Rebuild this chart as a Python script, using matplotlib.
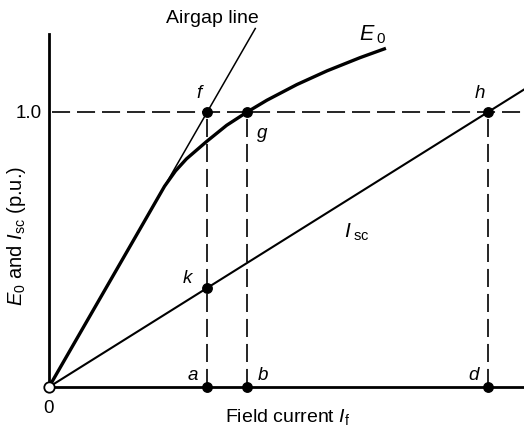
import matplotlib
matplotlib.use("Agg")
import matplotlib.pyplot as plt

plt.rcParams['font.family'] = ['Liberation Sans', 'DejaVu Sans']
plt.rcParams['mathtext.fontset'] = 'custom'
plt.rcParams['mathtext.rm'] = 'Liberation Sans'
plt.rcParams['mathtext.it'] = 'Liberation Sans:italic'
plt.rcParams['lines.scale_dashes'] = False

# open-circuit characteristic E0 (p.u.) against field current
e0_x = [0, 0.331, 0.42, 0.46, 0.50, 0.573, 0.646, 0.72, 0.792, 0.901, 1.011, 1.131, 1.225]
e0_y = [0, 0.575, 0.730, 0.786, 0.830, 0.893, 0.952, 1.0, 1.043, 1.100, 1.150, 1.198, 1.232]
# airgap line and short-circuit current line
air_x = [0, 0.75]
air_y = [0, 1.304]
isc_x = [0, 1.727]
isc_y = [0, 1.082]
# marked points
pts = {'f': (0.575, 1.0), 'g': (0.72, 1.0), 'h': (1.596, 1.0),
       'k': (0.575, 0.36), 'a': (0.575, 0.0), 'b': (0.72, 0.0), 'd': (1.596, 0.0)}

fig = plt.figure(figsize=(5.24, 4.39), dpi=100)
ax = fig.add_axes([49/524, 51/439, 475/524, 353/439])
ax.set_xlim(0, 1.727)
ax.set_ylim(0, 1.284)
for s in ['top', 'right']:
    ax.spines[s].set_visible(False)
for s in ['left', 'bottom']:
    ax.spines[s].set_linewidth(2.0)
ax.set_xticks([])
ax.set_yticks([])

dash = dict(color='black', lw=1.2, dashes=(13, 5))
ax.plot([0.01, 1.727], [1.0, 1.0], clip_on=False, **dash)
for p in ['a', 'b', 'd']:
    x0 = pts[p][0]
    ax.plot([x0, x0], [0, 1.0], **dash)

ax.plot(e0_x, e0_y, color='black', lw=2.4, solid_capstyle='butt',
        solid_joinstyle='round', clip_on=False)
ax.plot(air_x, air_y, color='black', lw=1.1, clip_on=False)
ax.plot(isc_x, isc_y, color='black', lw=1.5, clip_on=False)

for name, (x, y) in pts.items():
    ax.plot(x, y, 'o', color='black', ms=6.8, clip_on=False, zorder=5)
ax.plot(0, 0, 'o', mfc='white', mec='black', mew=1.3, ms=7.5, clip_on=False, zorder=6)

fs = 13.5
lbl = dict(fontsize=fs, style='italic', ha='center', va='center')
ax.text(0.546, 1.070, 'f', **lbl)
ax.text(0.775, 0.927, 'g', **lbl)
ax.text(1.567, 1.070, 'h', **lbl)
ax.text(0.502, 0.400, 'k', **lbl)
ax.text(0.524, 0.044, 'a', **lbl)
ax.text(0.778, 0.044, 'b', **lbl)
ax.text(1.542, 0.044, 'd', **lbl)
ax.text(1.12, 0.565, r'$I_{\;\mathrm{sc}}$', fontsize=15, ha='center', va='center')
ax.text(1.178, 1.286, r'$E_{\;0}$', fontsize=15.5, ha='center', va='center', clip_on=False)
ax.text(0.593, 1.345, 'Airgap line', fontsize=14, ha='center', va='center', clip_on=False)

fig.text(29/524, 1 - 113/439, '1.0', fontsize=13.5, ha='center', va='center')
fig.text(49/524, 1 - 409/439, '0', fontsize=13.5, ha='center', va='center')
fig.text(288/524, 1 - 417/439, r'Field current $I_{\mathrm{f}}$', fontsize=14, ha='center', va='center')
fig.text(17/524, 1 - 236/439, r'$E_0$ and $I_{\mathrm{sc}}$ (p.u.)', fontsize=14.5,
         rotation=90, ha='center', va='center')

fig.savefig('out.png', dpi=100)
